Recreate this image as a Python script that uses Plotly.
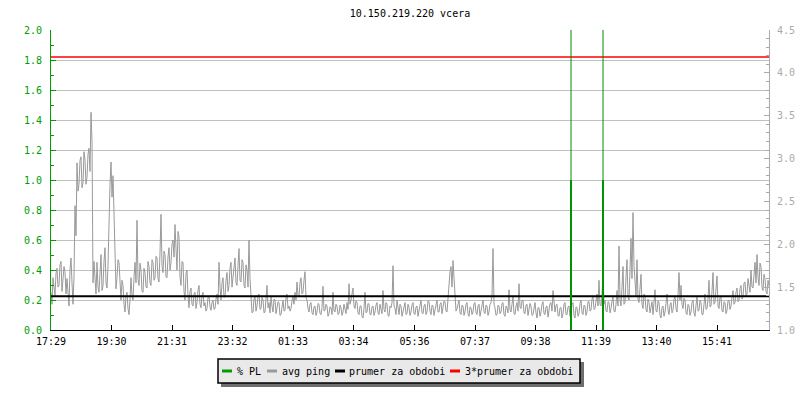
import plotly.graph_objects as go

title_text = "10.150.219.220 vcera"

# avg ping [ms], one sample every 2 minutes, starting 17:29
step_min = 2
ping_ms = [
    1.44, 1.30, 1.61, 1.48, 1.40, 1.66, 1.72, 1.50, 1.52, 1.76, 1.80, 1.45, 1.56, 1.74, 1.68, 1.42, 1.60, 1.38, 1.28, 1.70,
    1.84, 1.55, 1.30, 1.62, 2.45, 2.10, 2.95, 2.62, 2.70, 2.98, 3.02, 2.66, 2.72, 3.08, 2.98, 2.70, 2.78, 3.05, 3.12, 2.85,
    3.54, 3.20, 1.55, 1.80, 1.61, 1.42, 1.79, 1.50, 1.44, 1.72, 1.88, 1.46, 1.52, 1.80, 1.96, 1.55, 1.49, 1.75, 2.30, 2.70,
    2.96, 2.55, 2.80, 2.40, 1.70, 1.48, 1.61, 1.82, 1.79, 1.45, 1.35, 1.58, 1.52, 1.30, 1.21, 1.40, 1.44, 1.25, 1.18, 1.36,
    1.61, 1.40, 1.35, 1.62, 1.79, 1.55, 2.28, 1.60, 1.52, 1.78, 1.70, 1.45, 1.44, 1.72, 1.67, 1.50, 1.49, 1.80, 1.74, 1.55,
    1.52, 1.82, 1.79, 1.58, 1.61, 1.86, 1.84, 1.60, 1.56, 1.90, 2.35, 1.75, 1.67, 1.92, 1.88, 1.62, 1.61, 1.85, 1.96, 1.70,
    1.79, 2.00, 2.05, 1.85, 2.23, 1.95, 1.70, 2.15, 2.09, 1.62, 1.52, 1.80, 1.79, 1.45, 1.35, 1.66, 1.70, 1.40, 1.26, 1.45,
    1.49, 1.30, 1.28, 1.42, 1.44, 1.25, 1.32, 1.46, 1.52, 1.30, 1.26, 1.40, 1.44, 1.28, 1.32, 1.22, 1.25, 1.38, 1.39, 1.27,
    1.23, 1.32, 1.35, 1.24, 1.25, 1.36, 1.42, 1.30, 1.79, 1.50, 1.35, 1.55, 1.61, 1.38, 1.39, 1.58, 1.67, 1.45, 1.52, 1.72,
    1.79, 1.50, 1.61, 1.80, 1.84, 1.55, 1.52, 1.75, 1.95, 1.58, 1.56, 1.82, 1.79, 1.52, 1.49, 1.76, 1.70, 1.50, 2.05, 1.60,
    1.44, 1.20, 1.21, 1.36, 1.39, 1.22, 1.28, 1.40, 1.42, 1.24, 1.25, 1.38, 1.35, 1.20, 1.21, 1.34, 1.52, 1.26, 1.32, 1.20,
    1.39, 1.28, 1.21, 1.36, 1.35, 1.19, 1.25, 1.33, 1.32, 1.17, 1.18, 1.30, 1.35, 1.22, 1.23, 1.38, 1.42, 1.25, 1.28, 1.22,
    1.25, 1.34, 1.39, 1.30, 1.44, 1.35, 1.56, 1.40, 1.39, 1.55, 1.61, 1.42, 1.44, 1.58, 1.68, 1.38, 1.35, 1.25, 1.21, 1.30,
    1.32, 1.20, 1.18, 1.27, 1.28, 1.17, 1.21, 1.31, 1.30, 1.19, 1.18, 1.26, 1.51, 1.22, 1.23, 1.30, 1.28, 1.16, 1.19, 1.27,
    1.26, 1.18, 1.44, 1.22, 1.21, 1.30, 1.28, 1.18, 1.19, 1.29, 1.26, 1.17, 1.21, 1.30, 1.25, 1.19, 1.32, 1.24, 1.54, 1.30,
    1.35, 1.45, 1.49, 1.28, 1.25, 1.34, 1.32, 1.20, 1.18, 1.28, 1.28, 1.16, 1.14, 1.25, 1.44, 1.20, 1.21, 1.31, 1.30, 1.18,
    1.18, 1.27, 1.28, 1.17, 1.21, 1.29, 1.32, 1.20, 1.18, 1.30, 1.26, 1.19, 1.46, 1.24, 1.21, 1.32, 1.30, 1.17, 1.16, 1.28,
    1.26, 1.32, 1.75, 1.28, 1.25, 1.18, 1.35, 1.22, 1.18, 1.30, 1.28, 1.16, 1.21, 1.29, 1.32, 1.18, 1.19, 1.30, 1.26, 1.17,
    1.21, 1.29, 1.32, 1.19, 1.18, 1.27, 1.28, 1.16, 1.23, 1.31, 1.35, 1.20, 1.19, 1.28, 1.30, 1.18, 1.21, 1.34, 1.33, 1.22,
    1.18, 1.29, 1.28, 1.17, 1.23, 1.32, 1.35, 1.21, 1.21, 1.30, 1.32, 1.19, 1.25, 1.34, 1.33, 1.22, 1.21, 1.40, 1.52, 1.68,
    1.74, 1.50, 1.81, 1.60, 1.32, 1.22, 1.25, 1.33, 1.35, 1.20, 1.18, 1.29, 1.28, 1.17, 1.21, 1.30, 1.32, 1.19, 1.16, 1.27,
    1.26, 1.18, 1.21, 1.31, 1.32, 1.20, 1.18, 1.28, 1.30, 1.16, 1.23, 1.33, 1.35, 1.21, 1.19, 1.29, 1.28, 1.17, 1.21, 1.30,
    1.32, 1.40, 1.95, 1.30, 1.26, 1.17, 1.18, 1.29, 1.28, 1.19, 1.21, 1.31, 1.32, 1.18, 1.16, 1.28, 1.26, 1.20, 1.47, 1.24,
    1.21, 1.30, 1.39, 1.19, 1.18, 1.28, 1.32, 1.22, 1.54, 1.27, 1.25, 1.34, 1.35, 1.20, 1.19, 1.29, 1.30, 1.17, 1.23, 1.31,
    1.28, 1.17, 1.18, 1.29, 1.32, 1.20, 1.14, 1.26, 1.26, 1.16, 1.21, 1.30, 1.33, 1.19, 1.18, 1.27, 1.28, 1.15, 1.21, 1.31,
    1.32, 1.22, 1.46, 1.26, 1.21, 1.29, 1.30, 1.17, 1.16, 1.26, 1.26, 1.14, 1.19, 1.30, 1.32, 1.18, 1.18, 1.27, 1.28, 1.16,
    1.21, 1.30, 1.32, 1.17, 1.14, 1.27, 1.26, 1.16, 1.19, 1.31, 1.35, 1.20, 1.18, 1.29, 1.28, 1.17, 1.21, 1.33, 1.33, 1.22,
    1.23, 1.36, 1.39, 1.24, 1.25, 1.34, 1.42, 1.28, 1.58, 1.30, 1.28, 1.40, 1.67, 1.30, 1.35, 1.22, 1.21, 1.33, 1.32, 1.20,
    1.25, 1.34, 1.39, 1.22, 1.21, 1.30, 1.46, 1.28, 1.98, 1.35, 1.28, 1.50, 1.74, 1.30, 1.32, 1.62, 1.82, 1.38, 1.35, 1.70,
    2.07, 1.60, 2.37, 1.75, 1.52, 1.40, 1.82, 1.36, 1.32, 1.48, 1.65, 1.30, 1.25, 1.42, 1.39, 1.24, 1.21, 1.36, 1.32, 1.20,
    1.26, 1.33, 1.18, 1.30, 1.47, 1.22, 1.21, 1.34, 1.32, 1.17, 1.14, 1.26, 1.28, 1.16, 1.21, 1.31, 1.42, 1.24, 1.18, 1.29,
    1.32, 1.20, 1.23, 1.36, 1.39, 1.25, 1.21, 1.40, 1.67, 1.35, 1.52, 1.30, 1.25, 1.37, 1.35, 1.20, 1.18, 1.30, 1.28, 1.17,
    1.21, 1.32, 1.35, 1.20, 1.16, 1.29, 1.39, 1.22, 1.23, 1.35, 1.32, 1.18, 1.18, 1.30, 1.42, 1.24, 1.25, 1.36, 1.58, 1.27,
    1.28, 1.45, 1.67, 1.30, 1.32, 1.48, 1.63, 1.28, 1.25, 1.38, 1.39, 1.22, 1.21, 1.33, 1.32, 1.19, 1.23, 1.34, 1.35, 1.24,
    1.28, 1.38, 1.46, 1.30, 1.32, 1.44, 1.49, 1.33, 1.35, 1.48, 1.52, 1.36, 1.39, 1.55, 1.56, 1.40, 1.42, 1.60, 1.52, 1.44,
    1.70, 1.50, 1.49, 1.66, 1.79, 1.55, 1.88, 1.62, 1.52, 1.78, 1.74, 1.50, 1.46, 1.65, 1.60, 1.45, 1.42, 1.58, 1.52, 1.45,
]
times = [i * step_min for i in range(len(ping_ms))]

avg_ping = 1.395          # prumer za obdobi [ms]
avg_ping_x3 = 4.185       # 3*prumer za obdobi [ms]

# packet loss events [minutes from start], [%]
pl_times = [1040, 1104]
pl_values = [1.0, 1.0]

tick_vals = [0, 121, 242, 363, 484, 605, 727, 848, 969, 1090, 1211, 1332]
tick_text = ["17:29", "19:30", "21:31", "23:32", "01:33", "03:34",
             "05:36", "07:37", "09:38", "11:39", "13:40", "15:41"]

legend_names = ["% PL", "avg ping", "prumer za obdobi", "3*prumer za obdobi"]

GREEN = "#009c00"
GRAY = "#999999"
AXGRAY = "#aaaaaa"
BLACK = "#000000"
RED = "#ff0000"
FONT = "DejaVu Sans Mono"

fig = go.Figure()
# ping + averages on primary y (right side, ms)
fig.add_trace(go.Scatter(x=times, y=ping_ms, yaxis="y", mode="lines",
                         line=dict(color=GRAY, width=1), name=legend_names[1],
                         showlegend=False))
fig.add_trace(go.Scatter(x=[times[0], times[-1]], y=[avg_ping, avg_ping], yaxis="y",
                         mode="lines", line=dict(color=BLACK, width=2),
                         name=legend_names[2], showlegend=False))
fig.add_trace(go.Scatter(x=[times[0], times[-1]], y=[avg_ping_x3, avg_ping_x3], yaxis="y",
                         mode="lines", line=dict(color=RED, width=1.5),
                         name=legend_names[3], showlegend=False))
# packet loss on overlaying y2 (left side, %)
fig.add_trace(go.Bar(x=pl_times, y=pl_values, width=5, yaxis="y2",
                     marker=dict(color=GREEN, line=dict(width=0)),
                     name=legend_names[0], showlegend=False))
for t in pl_times:
    fig.add_vline(x=t, line=dict(color="#008a00", width=1))

# pixel -> paper helpers for the legend box (plot area 51..769 x 30..330)
def px(v):
    return (v - 51) / 718.0

def py(v):
    return (330 - v) / 300.0

shapes = [
    dict(type="rect", xref="paper", yref="paper", x0=px(221), x1=px(584), y0=py(387), y1=py(362),
         fillcolor="#6e6e6e", line=dict(width=0)),
    dict(type="rect", xref="paper", yref="paper", x0=px(218), x1=px(580), y0=py(383), y1=py(359),
         fillcolor="#e9e9e9", line=dict(color=BLACK, width=1.5)),
]
legend_items = [
    (222, 236, GREEN, legend_names[0]),
    (267, 281, GRAY, legend_names[1]),
    (335, 348, BLACK, legend_names[2]),
    (450, 464, RED, legend_names[3]),
]
annotations = []
for x_line, x_text, col, name in legend_items:
    shapes.append(dict(type="line", xref="paper", yref="paper",
                       x0=px(x_line), x1=px(x_line + 10), y0=py(371), y1=py(371),
                       line=dict(color=col, width=3)))
    annotations.append(dict(xref="paper", yref="paper", x=px(x_text - 1), y=py(371),
                            text=name, showarrow=False, xanchor="left", yanchor="middle",
                            font=dict(family=FONT, size=10, color=BLACK)))

for s in shapes:
    fig.add_shape(**s)

fig.update_layout(
    width=800, height=400,
    margin=dict(l=51, r=31, t=30, b=70, autoexpand=False),
    paper_bgcolor="white", plot_bgcolor="white",
    font=dict(family=FONT, size=10, color=BLACK),
    title=dict(text=title_text, x=0.5, xref="paper", xanchor="center",
               y=1 - 13 / 400, yanchor="middle", font=dict(family=FONT, size=10, color=BLACK)),
    showlegend=False,
    bargap=0,
    annotations=annotations,
    xaxis=dict(range=[0, 1436], tickmode="array", tickvals=tick_vals, ticktext=tick_text,
               showgrid=False, zeroline=False, showline=True, linecolor=BLACK, linewidth=1,
               ticks="inside", ticklen=5, tickcolor=BLACK, ticklabelstandoff=2,
               tickfont=dict(family=FONT, size=10, color=BLACK)),
    yaxis=dict(range=[1, 4.5], dtick=0.5, tick0=1, tickformat=".1f",
               side="right", showgrid=False, zeroline=False,
               showline=True, linecolor=AXGRAY, linewidth=1,
               ticks="inside", ticklen=5, tickcolor=AXGRAY, ticklabelstandoff=5,
               minor=dict(dtick=0.1, ticks="inside", ticklen=3, tickcolor=AXGRAY, showgrid=False),
               tickfont=dict(family=FONT, size=10, color=AXGRAY)),
    yaxis2=dict(range=[0, 2], dtick=0.2, tick0=0, tickformat=".1f",
                overlaying="y", side="left",
                showgrid=True, gridcolor="#c0c0c0", gridwidth=1, zeroline=False,
                showline=True, linecolor=GREEN, linewidth=1,
                ticks="inside", ticklen=5, tickcolor=GREEN, ticklabelstandoff=6,
                minor=dict(dtick=0.1, ticks="inside", ticklen=3, tickcolor=GREEN, showgrid=False),
                tickfont=dict(family=FONT, size=10, color=GREEN)),
)

fig.write_html("out.html", config={"displayModeBar": False},
               post_script="document.body.style.margin='0px';")
